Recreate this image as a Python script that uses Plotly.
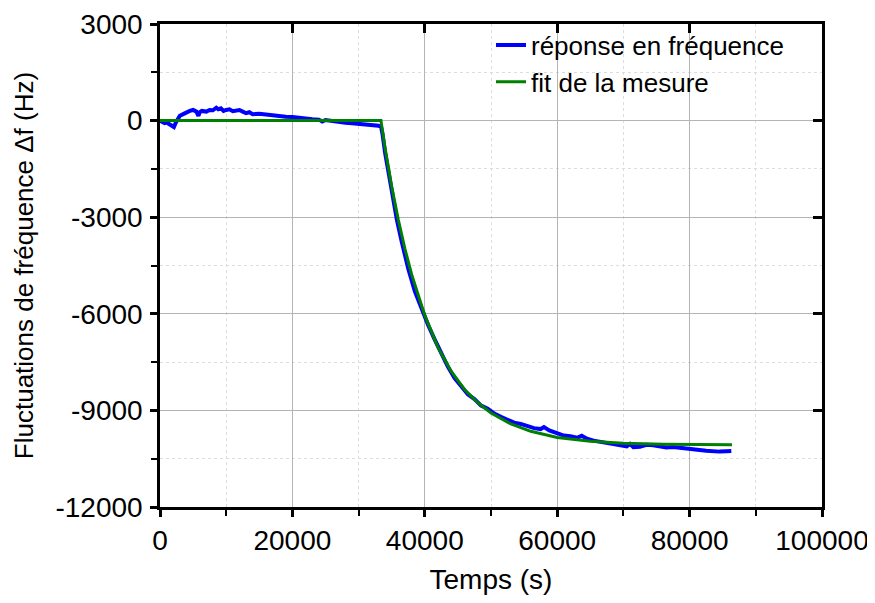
import plotly.graph_objects as go

# Données : temps (s) et décalage de fréquence (Hz)
t_mesure = [0, 300, 700, 1000, 1400, 1800, 2100, 2400, 2700, 3000, 3500, 4000,
            4500, 5000, 5500, 5800, 6000, 6300, 7000, 7500, 8000, 8500, 8800,
            9200, 9600, 10000, 10500, 11000, 11500, 12000, 12500, 13000, 13500,
            14000, 15000, 16000, 17000, 18000, 19000, 20000, 21000, 22000,
            23000, 24000, 24500, 25000, 26000, 27000, 28000, 29000, 30000,
            31000, 32000, 33000, 33400, 33600, 34000, 34500, 35000, 35800,
            36500, 37500, 38500, 39500, 40500, 41500, 42500, 43500, 44500,
            45500, 46500, 47500, 48500, 49500, 50500, 51500, 52500, 53500,
            54500, 55500, 56500, 57500, 58000, 58800, 60000, 61000, 62000,
            63000, 63700, 64500, 65500, 66500, 67500, 68500, 69500, 70500,
            71000, 71500, 72500, 73500, 74500, 75500, 76500, 77500, 78500,
            79500, 80500, 81500, 82500, 83500, 84500, 85500, 86300]
df_mesure = [0, -40, -80, -60, -120, -160, -200, -60, 80, 150, 200, 260,
             300, 330, 280, 150, 260, 300, 280, 330, 320, 400, 350,
             380, 300, 330, 350, 290, 300, 330, 280, 230, 260,
             200, 210, 180, 160, 150, 120, 110, 80, 60,
             40, 30, -30, 20, -20, -50, -70, -80, -100,
             -110, -130, -160, -200, -400, -1000, -1600, -2200, -3100,
             -3750, -4600, -5300, -5850, -6350, -6800, -7250, -7650, -8000,
             -8250, -8500, -8650, -8850, -8950, -9100, -9200, -9300, -9380,
             -9420, -9500, -9550, -9580, -9520, -9620, -9700, -9780, -9800,
             -9850, -9790, -9880, -9940, -9980, -10000, -10050, -10080, -10120,
             -10040, -10140, -10130, -10070, -10080, -10120, -10150, -10140, -10170,
             -10180, -10200, -10230, -10250, -10270, -10280, -10270, -10260]

t_fit = [0, 33370, 34000, 34500, 35000, 36000, 37000, 38000, 39000, 40000,
         42000, 44000, 46000, 48000, 50000, 53000, 56000, 60000, 65000,
         70000, 76000, 82000, 86400]
df_fit = [0, 0, -850, -1450, -2050, -3080, -3980, -4770, -5450, -6050,
          -7050, -7790, -8350, -8760, -9080, -9420, -9650, -9840, -9960,
          -10020, -10050, -10060, -10070]

# graduations
x_ticks = [0, 20000, 40000, 60000, 80000, 100000]
x_labels = ['0', '20000', '40000', '60000', '80000', '100000']
y_ticks = [-12000, -9000, -6000, -3000, 0, 3000]
y_labels = ['-12000', '-9000', '-6000', '-3000', '0', '3000']

fig = go.Figure()

fig.add_trace(go.Scatter(
    x=t_mesure, y=df_mesure,
    mode='lines', name='réponse en fréquence',
    line=dict(color='#0000ff', width=4)
))

# le fit est placé sur les axes miroirs (mêmes échelles) pour qu'ils soient dessinés
fig.add_trace(go.Scatter(
    x=t_fit, y=df_fit,
    mode='lines', name='fit de la mesure',
    line=dict(color='#008000', width=3),
    xaxis='x2', yaxis='y2'
))

police = 'Liberation Sans, Arial, sans-serif'

# la page html ajoute 8 px de marge autour de la figure
fig.update_layout(
    width=867, height=595,
    margin=dict(l=152, r=53, t=16, b=96),
    paper_bgcolor='white',
    plot_bgcolor='white',
    font=dict(family=police, size=28, color='black'),
    legend=dict(
        x=0.50, y=1.005, xanchor='left', yanchor='top',
        bgcolor='rgba(0,0,0,0)', borderwidth=0,
        font=dict(size=26), tracegroupgap=0
    ),
    xaxis=dict(
        range=[0, 100000], tickvals=x_ticks, ticktext=x_labels,
        showline=True, linecolor='black', linewidth=2.5, mirror=True,
        ticks='outside', ticklen=7, tickwidth=2.5, tickcolor='black',
        showgrid=True, gridcolor='#b4b4b4', gridwidth=1,
        zeroline=False, automargin=False,
        minor=dict(dtick=10000, tick0=0, ticks='outside', ticklen=6, tickwidth=2,
                   tickcolor='black', showgrid=True, gridcolor='#dddddd',
                   griddash='dot', gridwidth=1),
        title=dict(text='Temps (s)', font=dict(size=28)),
        tickfont=dict(size=28),
    ),
    yaxis=dict(
        range=[-12000, 3000], tickvals=y_ticks, ticktext=y_labels,
        showline=True, linecolor='black', linewidth=2.5, mirror=True,
        ticks='outside', ticklen=7, tickwidth=2.5, tickcolor='black',
        showgrid=True, gridcolor='#b4b4b4', gridwidth=1,
        zeroline=False, automargin=False,
        minor=dict(dtick=1500, tick0=0, ticks='outside', ticklen=6, tickwidth=2,
                   tickcolor='black', showgrid=True, gridcolor='#dddddd',
                   griddash='dot', gridwidth=1),
        title=dict(text='Fluctuations de fréquence Δf (Hz)', font=dict(size=26)),
        tickfont=dict(size=28),
        ticklabelstandoff=2,
    ),
    # axes miroirs pour les graduations intérieures en haut et à droite
    xaxis2=dict(
        overlaying='x', side='top', anchor='y',
        range=[0, 100000], tickvals=x_ticks,
        ticks='inside', ticklen=9, tickwidth=2.5, tickcolor='black',
        showticklabels=False, showgrid=False, zeroline=False, showline=False,
        automargin=False,
    ),
    yaxis2=dict(
        overlaying='y', side='right', anchor='x',
        range=[-12000, 3000], tickvals=y_ticks,
        ticks='inside', ticklen=9, tickwidth=2.5, tickcolor='black',
        showticklabels=False, showgrid=False, zeroline=False, showline=False,
        automargin=False,
    ),
)

fig.write_html("out.html")
